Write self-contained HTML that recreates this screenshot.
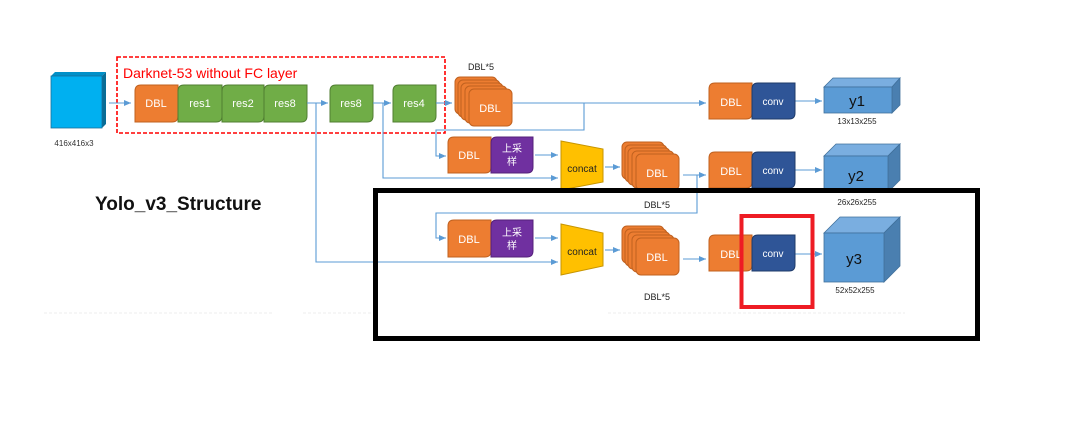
<!DOCTYPE html>
<html><head><meta charset="utf-8"><style>
html,body{margin:0;padding:0;background:#fff;}
svg{display:block;}
text{font-family:"Liberation Sans","Noto Sans CJK SC",sans-serif;}
</style></head><body>
<svg width="1079" height="445" viewBox="0 0 1079 445" xmlns="http://www.w3.org/2000/svg">
<defs>
<marker id="a" markerWidth="8" markerHeight="8" refX="7" refY="4" orient="auto" markerUnits="userSpaceOnUse"><path d="M0,1 L7,4 L0,7 z" fill="#5B9BD5"/></marker>
</defs>
<!-- input cube -->
<polygon points="51,76 55,72 106,72 102,76" fill="#0090c8"/>
<polygon points="102,76 106,72 106,124 102,128" fill="#0a6d96"/>
<rect x="51" y="76" width="51" height="52" fill="#00B0F0" stroke="#1a6f9a" stroke-width="0.8"/>
<text x="74" y="146" font-size="8" fill="#333" text-anchor="middle">416x416x3</text>

<!-- red dashed box -->
<rect x="117" y="57" width="328" height="76" fill="none" stroke="#FF0000" stroke-width="1.6" stroke-dasharray="4,2"/>
<text x="123" y="78" font-size="14" fill="#FF0000">Darknet-53 without FC layer</text>

<g stroke-width="1" font-size="11" fill="#fff" text-anchor="middle">
<!-- generic box shape function emulated -->
</g>

<g font-size="11" text-anchor="middle">
<!-- Row1 -->
<path d="M141,85 H178 V116 Q178,122 172,122 H135 V91 Q135,85 141,85Z" fill="#ED7D31" stroke="#c0611f"/>
<text x="156" y="107" fill="#fff">DBL</text>
<path d="M184,85 H222 V116 Q222,122 216,122 H178 V91 Q178,85 184,85Z" fill="#70AD47" stroke="#507e32"/>
<text x="200" y="107" fill="#fff">res1</text>
<path d="M228,85 H264 V116 Q264,122 258,122 H222 V91 Q222,85 228,85Z" fill="#70AD47" stroke="#507e32"/>
<text x="243" y="107" fill="#fff">res2</text>
<path d="M270,85 H307 V116 Q307,122 301,122 H264 V91 Q264,85 270,85Z" fill="#70AD47" stroke="#507e32"/>
<text x="285" y="107" fill="#fff">res8</text>
<path d="M336,85 H373 V116 Q373,122 367,122 H330 V91 Q330,85 336,85Z" fill="#70AD47" stroke="#507e32"/>
<text x="351" y="107" fill="#fff">res8</text>
<path d="M399,85 H436 V116 Q436,122 430,122 H393 V91 Q393,85 399,85Z" fill="#70AD47" stroke="#507e32"/>
<text x="414" y="107" fill="#fff">res4</text>
</g>

<!-- connectors -->
<g stroke="#5B9BD5" stroke-width="1.1" fill="none">
<line x1="109" y1="103" x2="131" y2="103" marker-end="url(#a)"/>
<line x1="307" y1="103" x2="328" y2="103" marker-end="url(#a)"/>
<line x1="373" y1="103" x2="391" y2="103" marker-end="url(#a)"/>
<line x1="436" y1="103" x2="452" y2="103" marker-end="url(#a)"/>
<polyline points="316,103 316,262 558,262" marker-end="url(#a)"/>
<polyline points="383,103 383,178 558,178" marker-end="url(#a)"/>
<line x1="513" y1="103" x2="706" y2="103" marker-end="url(#a)"/>
<polyline points="584,103 584,130 436,130 436,156 446,156" marker-end="url(#a)"/>
<line x1="535" y1="155" x2="558" y2="155" marker-end="url(#a)"/>
<line x1="605" y1="167" x2="620" y2="167" marker-end="url(#a)"/>
<line x1="683" y1="175" x2="706" y2="175" marker-end="url(#a)"/>
<polyline points="697,175 697,213 436,213 436,238 446,238" marker-end="url(#a)"/>
<line x1="535" y1="238" x2="558" y2="238" marker-end="url(#a)"/>
<line x1="605" y1="250" x2="620" y2="250" marker-end="url(#a)"/>
<line x1="683" y1="259" x2="706" y2="259" marker-end="url(#a)"/>
<line x1="795" y1="101" x2="822" y2="101" marker-end="url(#a)"/>
<line x1="795" y1="170" x2="822" y2="170" marker-end="url(#a)"/>
<line x1="795" y1="254" x2="822" y2="254" marker-end="url(#a)"/>
</g>

<!-- DBL*5 stacks -->
<g stroke="#c0611f" fill="#ED7D31">
<rect x="455" y="77" width="42" height="37" rx="5"/>
<rect x="458" y="80" width="42" height="37" rx="5"/>
<rect x="461" y="83" width="42" height="37" rx="5"/>
<rect x="465" y="86" width="42" height="37" rx="5"/>
<rect x="469" y="89" width="43" height="37" rx="5"/>
<rect x="622" y="142" width="42" height="37" rx="5"/>
<rect x="625" y="145" width="42" height="37" rx="5"/>
<rect x="628" y="148" width="42" height="37" rx="5"/>
<rect x="632" y="151" width="42" height="37" rx="5"/>
<rect x="636" y="154" width="43" height="36" rx="5"/>
<rect x="622" y="226" width="42" height="37" rx="5"/>
<rect x="625" y="229" width="42" height="37" rx="5"/>
<rect x="628" y="232" width="42" height="37" rx="5"/>
<rect x="632" y="235" width="42" height="37" rx="5"/>
<rect x="636" y="238" width="43" height="37" rx="5"/>
</g>
<g font-size="11" fill="#fff" text-anchor="middle">
<text x="490" y="112">DBL</text>
<text x="657" y="177">DBL</text>
<text x="657" y="261">DBL</text>
</g>
<g font-size="9" fill="#222" text-anchor="middle">
<text x="481" y="70">DBL*5</text>
<text x="657" y="208">DBL*5</text>
<text x="657" y="300">DBL*5</text>
<text x="857" y="124" font-size="8">13x13x255</text>
<text x="857" y="205" font-size="8">26x26x255</text>
<text x="855" y="293" font-size="8">52x52x255</text>
</g>

<!-- DBL + upsample -->
<g font-size="11" text-anchor="middle">
<path d="M454,137 H491 V167 Q491,173 485,173 H448 V143 Q448,137 454,137Z" fill="#ED7D31" stroke="#c0611f"/>
<text x="469" y="159" fill="#fff">DBL</text>
<path d="M497,137 H533 V167 Q533,173 527,173 H491 V143 Q491,137 497,137Z" fill="#7030A0" stroke="#54207a"/>
<text x="512" y="152" fill="#fff" font-size="10">上采</text><text x="512" y="165" fill="#fff" font-size="10">样</text>
<path d="M454,220 H491 V251 Q491,257 485,257 H448 V226 Q448,220 454,220Z" fill="#ED7D31" stroke="#c0611f"/>
<text x="469" y="243" fill="#fff">DBL</text>
<path d="M497,220 H533 V251 Q533,257 527,257 H491 V226 Q491,220 497,220Z" fill="#7030A0" stroke="#54207a"/>
<text x="512" y="236" fill="#fff" font-size="10">上采</text><text x="512" y="249" fill="#fff" font-size="10">样</text>
<!-- concat -->
<polygon points="561,141 603,149 603,182 561,190" fill="#FFC000" stroke="#c79500"/>
<text x="582" y="172" fill="#222" font-size="10">concat</text>
<polygon points="561,224 603,233 603,266 561,275" fill="#FFC000" stroke="#c79500"/>
<text x="582" y="255" fill="#222" font-size="10">concat</text>
<!-- DBL conv pairs -->
<path d="M715,83 H752 V113 Q752,119 746,119 H709 V89 Q709,83 715,83Z" fill="#ED7D31" stroke="#c0611f"/>
<text x="731" y="106" fill="#fff">DBL</text>
<path d="M758,83 H795 V113 Q795,119 789,119 H752 V89 Q752,83 758,83Z" fill="#2F5597" stroke="#1f3b6a"/>
<text x="773" y="105" fill="#fff" font-size="10">conv</text>
<path d="M715,152 H752 V182 Q752,188 746,188 H709 V158 Q709,152 715,152Z" fill="#ED7D31" stroke="#c0611f"/>
<text x="731" y="175" fill="#fff">DBL</text>
<path d="M758,152 H795 V182 Q795,188 789,188 H752 V158 Q752,152 758,152Z" fill="#2F5597" stroke="#1f3b6a"/>
<text x="773" y="174" fill="#fff" font-size="10">conv</text>
<path d="M715,235 H752 V265 Q752,271 746,271 H709 V241 Q709,235 715,235Z" fill="#ED7D31" stroke="#c0611f"/>
<text x="731" y="258" fill="#fff">DBL</text>
<path d="M758,235 H795 V265 Q795,271 789,271 H752 V241 Q752,235 758,235Z" fill="#2F5597" stroke="#1f3b6a"/>
<text x="773" y="257" fill="#fff" font-size="10">conv</text>
</g>

<!-- output cubes -->
<g stroke="#41719c" stroke-width="0.8">
<polygon points="824,87 833,78 900,78 892,87" fill="#7aaee0"/>
<polygon points="892,87 900,78 900,105 892,113" fill="#4a7fb0"/>
<rect x="824" y="87" width="68" height="26" fill="#5B9BD5"/>
<polygon points="824,156 836,144 900,144 888,156" fill="#7aaee0"/>
<polygon points="888,156 900,144 900,180 888,192" fill="#4a7fb0"/>
<rect x="824" y="156" width="64" height="36" fill="#5B9BD5"/>
<polygon points="824,233 840,217 900,217 884,233" fill="#7aaee0"/>
<polygon points="884,233 900,217 900,266 884,282" fill="#4a7fb0"/>
<rect x="824" y="233" width="60" height="49" fill="#5B9BD5"/>
</g>
<g font-size="15" fill="#111" text-anchor="middle">
<text x="857" y="106">y1</text>
<text x="856" y="181">y2</text>
<text x="854" y="264">y3</text>
</g>

<!-- title -->
<text x="95" y="210" font-size="19" font-weight="bold" fill="#111">Yolo_v3_Structure</text>

<!-- faint lines -->
<g stroke="#eee" stroke-width="1" stroke-dasharray="3,2">
<line x1="44" y1="313" x2="272" y2="313"/>
<line x1="303" y1="313" x2="372" y2="313"/>
<line x1="608" y1="313" x2="905" y2="313"/>
</g>

<!-- black rect -->
<rect x="375.5" y="190.5" width="602" height="148" fill="none" stroke="#000" stroke-width="5"/>
<!-- red rect -->
<rect x="741.5" y="216" width="71" height="91" fill="none" stroke="#EE1C24" stroke-width="4"/>
</svg>
</body></html>
